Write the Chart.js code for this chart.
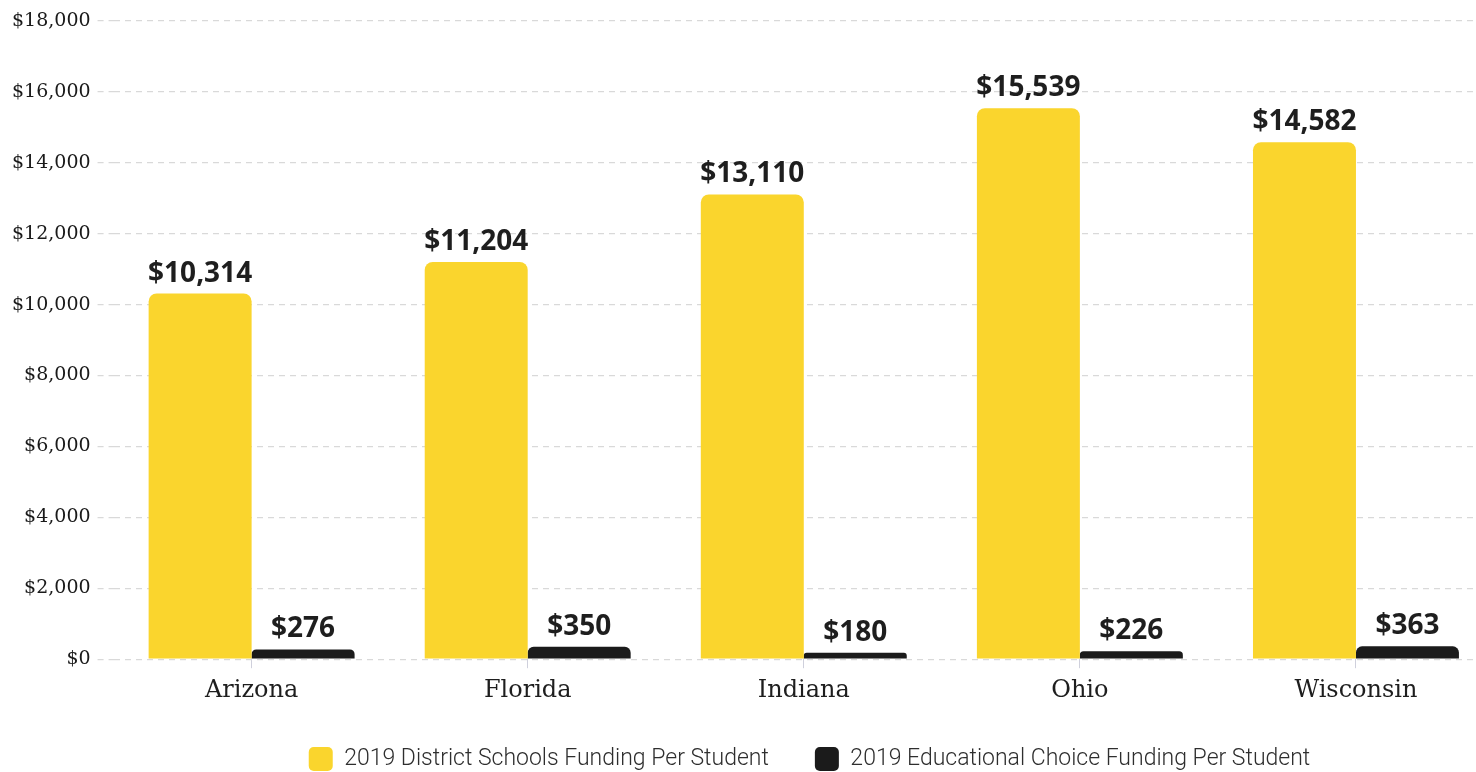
<!DOCTYPE html>
<html>
<head>
<meta charset="utf-8">
<script src="https://cdn.jsdelivr.net/npm/chart.js@4/dist/chart.umd.min.js"></script>
<style>
  html, body { margin: 0; padding: 0; background: #fff; overflow: hidden; }
  #wrap { width: 1502px; height: 772px; position: relative; }
</style>
</head>
<body>
<div id="wrap"><canvas id="fundingChart"></canvas></div>
<script>
// values
const states = ['Arizona', 'Florida', 'Indiana', 'Ohio', 'Wisconsin'];
const districtFunding = [10314, 11204, 13110, 15539, 14582];
const choiceFunding = [276, 350, 180, 226, 363];
const seriesNames = ['2019 District Schools Funding Per Student', '2019 Educational Choice Funding Per Student'];
const yTicks = [0, 2000, 4000, 6000, 8000, 10000, 12000, 14000, 16000, 18000];

const money = v => '$' + v.toLocaleString('en-US');

// draws the value above each bar
const valueLabels = {
    id: 'valueLabels',
    afterDatasetsDraw(chart) {
        const ctx = chart.ctx;
        ctx.save();
        ctx.font = 'bold 28px "Open Sans"';
        ctx.fillStyle = '#1e1e1e';
        ctx.textAlign = 'center';
        ctx.textBaseline = 'alphabetic';
        chart.data.datasets.forEach((ds, i) => {
            chart.getDatasetMeta(i).data.forEach((bar, j) => {
                ctx.fillText(money(ds.data[j]), bar.x, bar.y - 12);
            });
        });
        ctx.restore();
    }
};

// nudge the legend like the original
const legendShift = {
    id: 'legendShift',
    afterLayout(chart) {
        chart.legend.left += 60;
        chart.legend.right += 60;
        chart.legend.top -= 12;
        chart.legend.bottom -= 12;
    }
};

const ctx = document.getElementById('fundingChart').getContext('2d');
const fundingChart = new Chart(ctx, {
    type: 'bar',
    data: {
        labels: states,
        datasets: [{
            label: seriesNames[0],
            data: districtFunding,
            backgroundColor: '#fad52d',
            borderRadius: { topLeft: 8, topRight: 8 },
            borderSkipped: 'start'
        }, {
            label: seriesNames[1],
            data: choiceFunding,
            backgroundColor: '#1b1b1b',
            borderRadius: { topLeft: 8, topRight: 8 },
            borderSkipped: 'start'
        }]
    },
    options: {
        responsive: true,
        maintainAspectRatio: false,
        animation: false,
        layout: { padding: { top: 21, right: 8, left: 5, bottom: -21 } },
        categoryPercentage: 0.746,
        barPercentage: 1.0,
        plugins: {
            tooltip: { enabled: false },
            legend: {
                position: 'bottom',
                labels: {
                    boxWidth: 24,
                    boxHeight: 24,
                    useBorderRadius: true,
                    borderRadius: 5,
                    padding: 46,
                    color: '#2e2e2e',
                    font: { family: 'Roboto', size: 23, weight: 300 }
                }
            }
        },
        scales: {
            x: {
                border: { display: false },
                grid: {
                    offset: false,
                    drawOnChartArea: false,
                    tickLength: 9,
                    color: '#cfd0dc'
                },
                ticks: {
                    color: '#1e1e1e',
                    padding: 8,
                    font: { family: 'DejaVu Serif', size: 24 }
                }
            },
            y: {
                min: 0,
                max: 18000,
                border: { display: false, dash: [6, 5] },
                afterBuildTicks(axis) {
                    axis.ticks = yTicks.map(v => ({ value: v }));
                },
                grid: {
                    color: '#d9d9d9',
                    lineWidth: 1.2,
                    tickLength: 16,
                    tickColor: '#d9d9d9',
                    tickBorderDash: [6, 5]
                },
                ticks: {
                    color: '#1a1a1a',
                    padding: 7,
                    font: { family: 'DejaVu Serif', size: 19 },
                    callback: v => money(v)
                }
            }
        }
    },
    plugins: [valueLabels, legendShift]
});
</script>
</body>
</html>
